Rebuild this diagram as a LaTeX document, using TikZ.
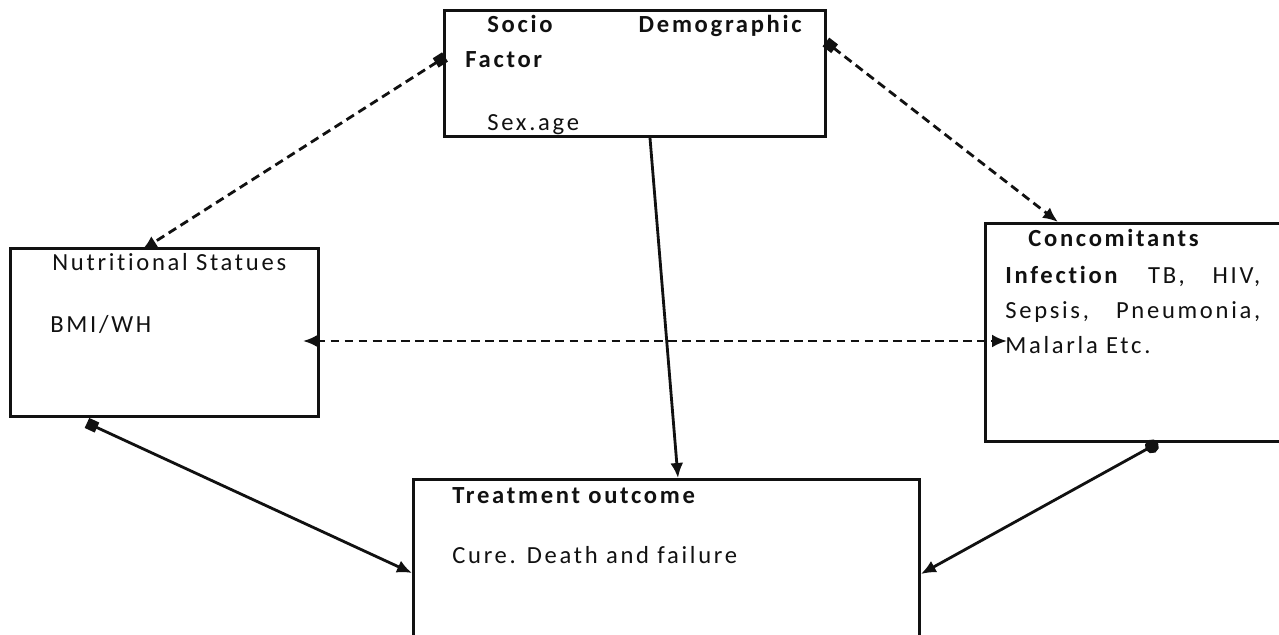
\documentclass[tikz,border=0pt]{standalone}
\usepackage{fontspec}
\setmainfont{Carlito}[LetterSpace=11, RawFeature=-liga]
\usetikzlibrary{positioning,arrows.meta,calc}
\definecolor{ink}{RGB}{17,17,17}
\tikzset{
  panel/.style={draw=ink, line width=1.7pt, anchor=north west, inner sep=0pt},
  txt/.style={anchor=base west, inner sep=0pt, text=ink, font=\fontsize{14}{17}\selectfont},
  btxt/.style={txt, font=\fontsize{14}{17}\selectfont\bfseries},
  dlink/.style={draw=ink, line width=1.6pt, dash pattern=on 5pt off 3pt},
  slink/.style={draw=ink, line width=1.6pt},
  >={Latex[length=3mm,width=2.6mm]},
}
\begin{document}
\begin{tikzpicture}[x=0.02cm, y=-0.02cm]
  \useasboundingbox[fill=white] (0,0) rectangle (1279,635);

  % boxes
  \node[panel, minimum width=7.62cm, minimum height=2.52cm] (socio) at (443,9) {};
  \node[panel, minimum width=6.16cm, minimum height=3.36cm] (nutri) at (9,247) {};
  \node[panel, minimum width=6.2cm, minimum height=4.36cm] (conc) at (984,222) {};
  \node[panel, minimum width=10.12cm, minimum height=3.4cm] (outc) at (412,478) {};

  % texts
  \node[btxt] (socio1) at (487,33) {Socio};
  \node[btxt, anchor=base east] (socio2) at (802,33) {Demographic};
  \node[btxt] (socio3) at (465,68) {Factor};
  \node[txt] (socio4) at (487,131) {Sex.age};

  \node[txt] (nutri1) at (52,271) {Nutritional Statues};
  \node[txt] (nutri2) at (50,332) {BMI/WH};

  \node[btxt] (conc1) at (1028,247) {Concomitants};
  \node[txt] (conc2) at (1005,283) {\makebox[5.1cm][s]{\textbf{Infection} TB, HIV,}};
  \node[txt] (conc3) at (1005,318) {\makebox[5.1cm][s]{Sepsis, Pneumonia,}};
  \node[txt] (conc4) at (1005,353) {Malarla Etc.};

  \node[btxt] (outc1) at (452,503) {Treatment outcome};
  \node[txt] (outc2) at (452,563) {Cure. Death and failure};

  % link ends
  \coordinate (s-l) at ($(socio.north west)+(2,48)$);
  \coordinate (n-t) at ($(nutri.north west)+(133,3)$);
  \coordinate (s-r) at ($(socio.north east)+(-1,33)$);
  \coordinate (c-t) at ($(conc.north west)+(74,0)$);
  \coordinate (n-r) at ($(nutri.north east)+(-17,94)$);
  \coordinate (c-l) at ($(conc.north west)+(23,119)$);
  \coordinate (s-b) at ($(socio.south west)+(207,0)$);
  \coordinate (o-t) at ($(outc.north west)+(266,0)$);
  \coordinate (n-b) at ($(nutri.south west)+(78,5)$);
  \coordinate (o-l) at ($(outc.north west)+(0,95)$);
  \coordinate (c-b) at ($(conc.south west)+(174,0)$);
  \coordinate (o-r) at ($(outc.north east)+(0,96)$);

  \draw[dlink, {Square[length=2.2mm,width=2.2mm]}->] (s-l) -- (n-t);
  \draw[dlink, {Square[length=2.2mm,width=2.2mm]}->] (s-r) -- (c-t);
  \draw[dlink, <->] (n-r) -- (c-l);
  \draw[slink, ->] (s-b) -- (o-t);
  \draw[slink, {Square[length=2.2mm,width=2.2mm]}->] (n-b) -- (o-l);
  \draw[slink, {Circle[length=2.8mm]}->] (c-b) -- (o-r);
\end{tikzpicture}
\end{document}
